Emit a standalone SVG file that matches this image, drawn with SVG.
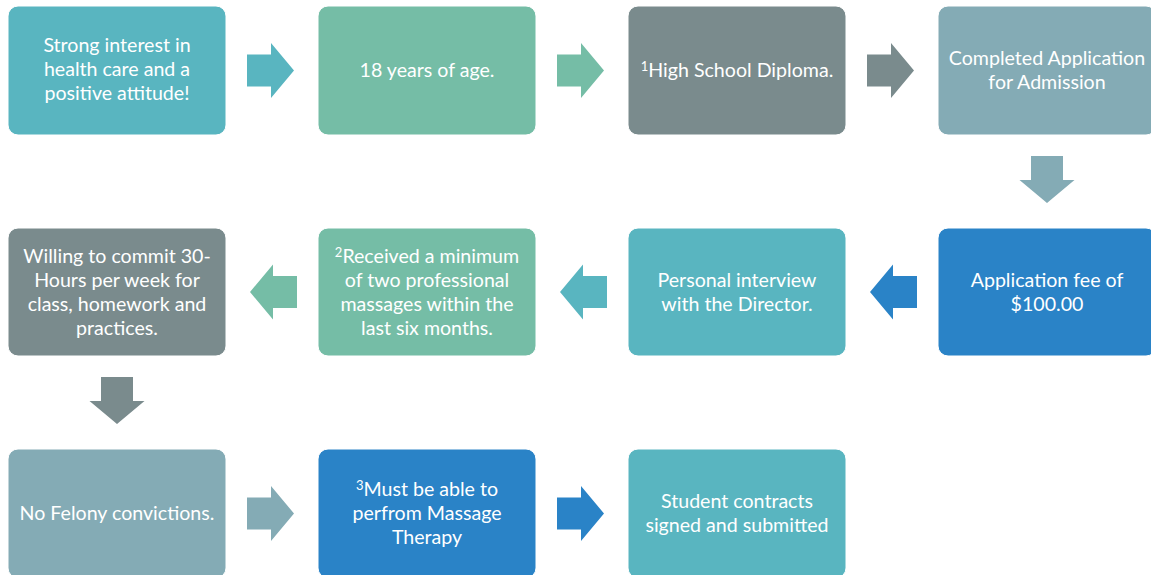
<svg xmlns="http://www.w3.org/2000/svg" width="1151" height="575" viewBox="0 0 1151 575">
<style>
.box{stroke:#ffffff;stroke-width:1}
.t{font-family:Lato,"Open Sans","Liberation Sans",sans-serif;font-size:19.6px;fill:#ffffff;text-anchor:middle}
.teal{fill:#59B5C0}
.green{fill:#75BDA6}
.gray{fill:#7A8B8D}
.slate{fill:#84ABB5}
.blue{fill:#2A83C7}
</style>
<defs>
<path id="ar" d="M-23.5,-16 L0.5,-16 L0.5,-27.5 L23.5,0 L0.5,27.5 L0.5,16 L-23.5,16 Z"/>
</defs>
<rect width="1151" height="575" fill="#ffffff"/>
<g id="connectors">
<use href="#ar" class="teal" transform="translate(270.5,70.5)"/>
<use href="#ar" class="green" transform="translate(580.5,70.5)"/>
<use href="#ar" class="gray" transform="translate(890.5,70.5)"/>
<use href="#ar" class="slate" transform="translate(1047,179.5) rotate(90)"/>
<use href="#ar" class="blue" transform="translate(893.5,292) rotate(180)"/>
<use href="#ar" class="teal" transform="translate(583.5,292) rotate(180)"/>
<use href="#ar" class="green" transform="translate(273.5,292) rotate(180)"/>
<use href="#ar" class="gray" transform="translate(117,400.5) rotate(90)"/>
<use href="#ar" class="slate" transform="translate(270.5,513.5)"/>
<use href="#ar" class="blue" transform="translate(580.5,513.5)"/>
</g>
<g id="n1">
<rect class="box teal" x="8" y="6" width="218" height="129" rx="10"/>
<text class="t" x="117" y="52">Strong interest in</text>
<text class="t" x="117" y="76">health care and a</text>
<text class="t" x="117" y="100">positive attitude!</text>
</g>
<g id="n2">
<rect class="box green" x="318" y="6" width="218" height="129" rx="10"/>
<text class="t" x="427" y="77">18 years of age.</text>
</g>
<g id="n3">
<rect class="box gray" x="628" y="6" width="218" height="129" rx="10"/>
<text class="t" x="737" y="77"><tspan font-size="13" dy="-6">1</tspan><tspan dy="6">High School Diploma.</tspan></text>
</g>
<g id="n4">
<rect class="box slate" x="938" y="6" width="218" height="129" rx="10"/>
<text class="t" x="1047" y="65">Completed Application</text>
<text class="t" x="1047" y="89">for Admission</text>
</g>
<g id="n5">
<rect class="box blue" x="938" y="228" width="218" height="128" rx="10"/>
<text class="t" x="1047" y="286.5">Application fee of</text>
<text class="t" x="1047" y="310.5">$100.00</text>
</g>
<g id="n6">
<rect class="box teal" x="628" y="228" width="218" height="128" rx="10"/>
<text class="t" x="737" y="286.5">Personal interview</text>
<text class="t" x="737" y="310.5">with the Director.</text>
</g>
<g id="n7">
<rect class="box green" x="318" y="228" width="218" height="128" rx="10"/>
<text class="t" x="427" y="262.5"><tspan font-size="13" dy="-6">2</tspan><tspan dy="6">Received a minimum</tspan></text>
<text class="t" x="427" y="286.5">of two professional</text>
<text class="t" x="427" y="310.5">massages within the</text>
<text class="t" x="427" y="334.5">last six months.</text>
</g>
<g id="n8">
<rect class="box gray" x="8" y="228" width="218" height="128" rx="10"/>
<text class="t" x="117" y="262.5">Willing to commit 30-</text>
<text class="t" x="117" y="286.5">Hours per week for</text>
<text class="t" x="117" y="310.5">class, homework and</text>
<text class="t" x="117" y="334.5">practices.</text>
</g>
<g id="n9">
<rect class="box slate" x="8" y="449" width="218" height="129" rx="10"/>
<text class="t" x="117" y="520">No Felony convictions.</text>
</g>
<g id="n10">
<rect class="box blue" x="318" y="449" width="218" height="129" rx="10"/>
<text class="t" x="427" y="496"><tspan font-size="13" dy="-6">3</tspan><tspan dy="6">Must be able to</tspan></text>
<text class="t" x="427" y="520">perfrom Massage</text>
<text class="t" x="427" y="544">Therapy</text>
</g>
<g id="n11">
<rect class="box teal" x="628" y="449" width="218" height="129" rx="10"/>
<text class="t" x="737" y="508">Student contracts</text>
<text class="t" x="737" y="532">signed and submitted</text>
</g>
</svg>
